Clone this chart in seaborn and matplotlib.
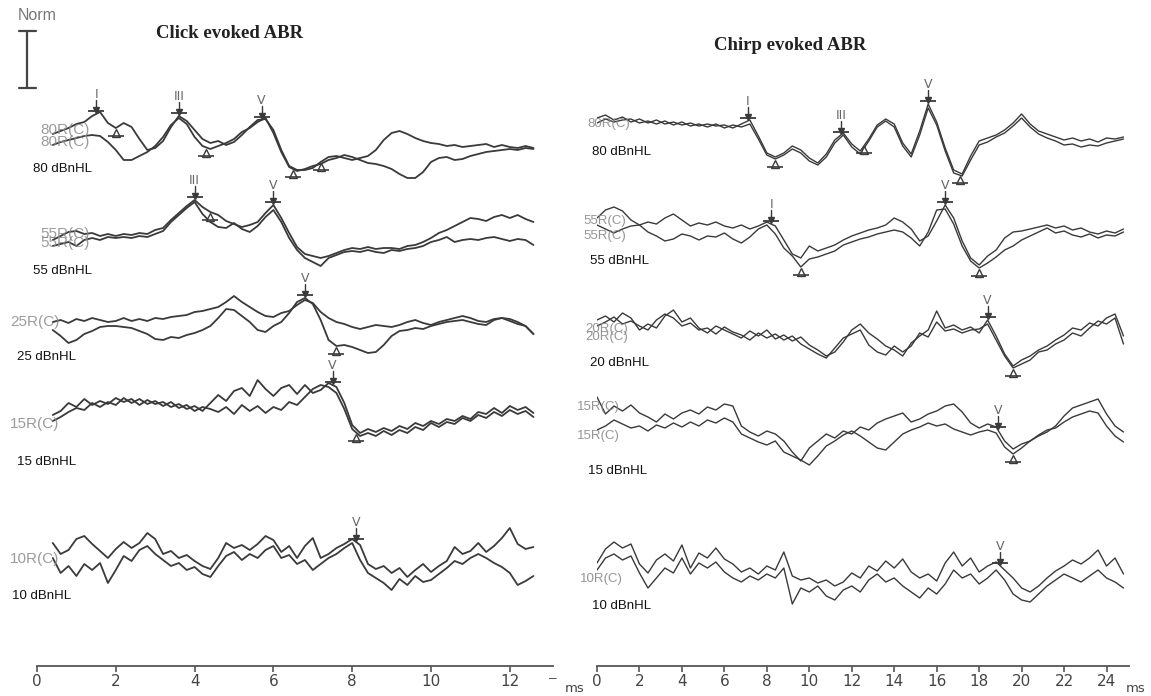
import numpy as np
import pandas as pd
import seaborn as sns
import matplotlib.pyplot as plt
from matplotlib.lines import Line2D

# sample times in ms
click_t = np.round(np.arange(0.4, 12.61, 0.2), 1)
chirp_t = np.round(np.arange(0.0, 24.81, 0.4), 1)

click_80a = [6, 9, 12, 16, 18, 24, 28, 17, 12, 17, 13, 1, -10, -8, -1, 13, 24, 19, 10, 1,
             -3, -1, -5, -2, 5, 13, 20, 21, 10, -10, -26, -30, -30, -28, -22, -17, -16, -18, -20, -18,
             -16, -10, 0, 7, 9, 6, 2, -1, -3, -4, -6, -5, -7, -6, -5, -4, -7, -5, -7, -8, -6, -8]
click_80b = [-5, -2, 0, 2, 4, 5, 4, -2, -10, -20, -20, -16, -12, -6, 3, 15, 22, 16, 3, -6,
             -9, -6, -3, 1, 8, 12, 18, 22, 7, -12, -27, -31, -29, -26, -24, -20, -18, -15, -17, -20,
             -23, -24, -26, -29, -34, -38, -38, -32, -22, -18, -17, -20, -19, -16, -14, -12, -11, -10, -9, -10, -8, -9]
click_55a = [0, 4, 8, 9, 6, 7, 4, 6, 4, 6, 5, 7, 6, 10, 12, 20, 27, 34, 40, 33,
             28, 25, 19, 16, 13, 15, 18, 27, 35, 22, 7, -7, -14, -16, -18, -16, -13, -10, -8, -9,
             -7, -9, -8, -8, -9, -6, -5, -2, 2, 7, 10, 14, 18, 22, 21, 19, 23, 25, 22, 25, 21, 18]
click_55b = [-6, -4, -2, -6, 0, 2, 0, 3, 2, 3, 2, 4, 3, 6, 9, 18, 25, 32, 38, 26,
             18, 13, 12, 17, 11, 8, 14, 23, 30, 18, 2, -10, -18, -22, -26, -18, -15, -12, -11, -12,
             -10, -12, -13, -10, -11, -9, -8, -6, -2, 0, 3, -2, 0, 1, 0, 2, 3, 1, -1, 1, 0, -5]
click_25a = [-2, 0, -3, 1, -1, 2, 0, -2, -1, 2, -1, 1, -1, 2, 1, 3, 4, 5, 8, 9,
             11, 13, 18, 24, 18, 13, 8, 4, 3, 7, 9, 15, 20, 17, 8, 2, -2, -4, -7, -9,
             -7, -5, -6, -7, -5, -2, 0, -3, -5, -2, 0, 2, 4, 2, -1, -2, 1, 2, -1, -4, -6, -14]
click_25b = [-10, -16, -23, -20, -14, -11, -7, -6, -6, -7, -8, -11, -14, -19, -20, -17, -18, -15, -13, -10,
             -6, 2, 11, 10, 4, -2, -10, -12, -6, -2, 7, 18, 22, 16, 0, -20, -26, -25, -27, -30,
             -33, -32, -25, -16, -11, -10, -8, -9, -6, -4, -2, -1, 0, -2, -4, -5, 0, 2, 1, -2, -6, -14]
click_15a = [-2, 2, 10, 6, 14, 8, 12, 9, 15, 11, 14, 8, 13, 9, 11, 6, 9, 4, 7, 2,
             10, 18, 12, 22, 25, 17, 33, 24, 17, 25, 28, 19, 28, 20, 23, 30, 26, 10, -12, -20,
             -16, -19, -15, -18, -13, -16, -10, -13, -8, -11, -6, -8, -3, -6, 1, -1, 5, 0, 7, 3, 6, 0]
click_15b = [-8, -4, 1, 5, 3, 10, 6, 11, 8, 15, 10, 14, 9, 12, 7, 11, 5, 8, 2, 6,
             4, 1, 6, -1, 8, 2, 7, 0, 6, 3, 11, 8, 16, 24, 28, 26, 20, 4, -16, -23,
             -20, -23, -18, -22, -17, -20, -14, -17, -10, -14, -9, -11, -5, -8, -2, -5, 1, -3, 3, -1, 2, -4]
click_10a = [15, 4, 8, 19, 22, 14, 7, 0, 9, 16, 10, 15, 25, 19, 4, 7, 0, 3, -3, -8,
             -11, 0, 15, 10, 13, 8, 14, 22, 18, 6, 12, 0, 12, 20, 0, 4, 10, 14, 19, 13,
             -6, -11, -8, -15, -10, -19, -12, -6, -14, -8, -3, 11, 4, 7, 15, 6, 12, 20, 30, 14, 9, 11]
click_10b = [0, -15, -8, -18, -6, -12, -5, -25, -12, 2, -3, 8, 12, 4, -2, -8, -5, -12, -9, -16,
             -19, -8, 2, 6, -2, 4, 0, 8, 12, 0, 3, -6, -2, -12, -6, 0, 4, 10, 15, -2,
             -15, -20, -25, -32, -21, -27, -18, -24, -22, -16, -10, -3, -6, 0, 4, 0, -5, -9, -15, -27, -23, -18]

chirp_80a = [10, 13, 8, 11, 6, 9, 5, 8, 4, 6, 3, 5, 2, 4, 2, 3, 0, 4, 8, -8,
             -25, -29, -25, -18, -22, -30, -35, -26, -12, -5, -16, -23, -11, 3, 9, 4, -15, -26, -3, 24,
             6, -20, -42, -46, -28, -13, -10, -7, -2, 5, 14, 4, -3, -6, -9, -12, -10, -13, -11, -14, -10, -11, -9]
chirp_80b = [5, 9, 6, 8, 9, 5, 7, 4, 7, 3, 6, 2, 4, 1, 4, 0, 3, 1, 4, -11,
             -27, -31, -27, -21, -25, -33, -37, -29, -15, -7, -19, -26, -13, 1, 7, 1, -18, -29, -7, 20,
             3, -23, -45, -48, -32, -17, -14, -9, -5, 2, 10, 1, -6, -10, -13, -17, -16, -19, -17, -18, -15, -13, -11]
chirp_55a = [18, 26, 29, 25, 16, 11, 14, 12, 18, 22, 16, 10, 13, 11, 14, 10, 8, 11, 7, 10,
             14, 10, -4, -18, -22, -10, -15, -12, -9, -4, 0, 3, 6, 8, 11, 18, 14, 7, -5, 0,
             15, 31, 18, -5, -22, -29, -20, -14, -2, 4, 5, 7, 9, 11, 8, 10, 6, 8, 4, 2, 5, 3, 7]
chirp_55b = [11, 7, 3, 7, 10, 11, 4, 0, -5, -3, 2, 0, -4, 0, -1, 3, -3, -7, -1, 7,
             11, 2, -12, -20, -31, -23, -21, -18, -15, -9, -6, -3, -1, 2, 4, 6, 4, -2, -10, 4,
             26, 27, 12, -10, -25, -32, -27, -21, -14, -10, -4, 0, 4, 8, 3, 5, 1, -1, 2, -2, 1, 0, 4]
chirp_20a = [10, 14, 8, 17, 12, 0, 6, 2, 14, 20, 8, 12, 2, -3, 4, 0, -4, -8, -1, -6,
             0, -9, -5, -11, -7, -15, -20, -26, -22, -12, 0, 6, -3, -9, -16, -20, -26, -13, -6, 0,
             19, 2, 5, 0, 3, -3, 10, -6, -24, -36, -30, -26, -20, -16, -10, -5, 2, 0, 7, 4, 12, 16, -6]
chirp_20b = [4, 8, 13, 6, 9, 4, 0, 10, 16, 12, 4, 7, 0, 2, -4, 3, -2, -5, -10, -3,
             -8, -4, -10, -6, -14, -19, -24, -28, -18, -8, -4, 0, -15, -22, -25, -16, -22, -16, -3, -7,
             8, -1, 1, -3, 0, 1, 6, -10, -26, -38, -34, -30, -22, -20, -14, -10, -3, -6, 2, 9, 6, 12, -14]
chirp_15a = [29, 12, 20, 15, 21, 13, 9, 4, 12, 7, 13, 16, 12, 19, 16, 22, 20, 0, -6, -10,
             -5, -8, -15, -26, -35, -22, -15, -8, -12, -5, -8, -1, -4, 3, 7, 10, 13, 4, 7, 12,
             15, 20, 22, 14, 3, -2, 2, -1, -15, -23, -18, -15, -10, -6, 0, 10, 18, 21, 24, 27, 12, 0, -6]
chirp_15b = [-4, 0, 6, 2, -2, 0, -5, 1, -2, 3, -1, 4, 0, 6, 3, 8, 4, -8, -12, -16,
             -19, -15, -26, -30, -34, -39, -30, -20, -15, -9, -5, -10, -16, -22, -24, -16, -8, -4, -1, 3,
             0, 2, -3, -6, -9, -6, -4, -7, -21, -28, -22, -15, -9, -4, -2, 4, 9, 12, 15, 13, 0, -10, -16]
chirp_10a = [5, 19, 26, 20, 24, 4, -5, 8, 14, 7, 23, 0, 15, 10, 20, 9, 4, -4, 0, -6,
             2, -2, 16, -8, -12, -10, -15, -12, -18, -14, -5, -10, 2, -3, 7, 0, 9, -4, -10, -6,
             -13, 5, 16, 2, 10, -4, 2, 6, -2, -10, -20, -24, -18, -10, -3, 2, 8, 4, 10, 18, 2, 10, -6]
chirp_10b = [-2, 10, 14, 8, 12, -5, -20, -10, 0, -5, 10, -6, 5, 0, 6, -4, -10, -14, -8, -12,
             -6, -10, 0, -36, -20, -24, -18, -28, -32, -22, -18, -24, -12, -6, -14, -10, -18, -24, -30, -20,
             -26, -16, -2, -10, -6, -16, -10, -2, -12, -26, -32, -34, -26, -18, -12, -6, -10, -14, -8, -2, -10, -14, -20]

click_levels = ["80", "55", "25", "15", "10"]
chirp_levels = ["80", "55", "20", "15", "10"]
click_runs = [(click_80a, click_80b), (click_55a, click_55b), (click_25a, click_25b),
              (click_15a, click_15b), (click_10a, click_10b)]
chirp_runs = [(chirp_80a, chirp_80b), (chirp_55a, chirp_55b), (chirp_20a, chirp_20b),
              (chirp_15a, chirp_15b), (chirp_10a, chirp_10b)]

# wave labels (latency ms, name) and trough marks (latency ms, run index)
click_peaks = {"80": [(1.5, "I"), (3.6, "III"), (5.7, "V")], "55": [(4.0, "III"), (6.0, "V")],
               "25": [(6.8, "V")], "15": [(7.5, "V")], "10": [(8.1, "V")]}
click_troughs = {"80": [(2.0, 0), (4.3, 1), (6.5, 1), (7.2, 0)], "55": [(4.4, 0)],
                 "25": [(7.6, 1)], "15": [(8.1, 1)], "10": []}
chirp_peaks = {"80": [(7.1, "I"), (11.5, "III"), (15.6, "V")], "55": [(8.2, "I"), (16.4, "V")],
               "20": [(18.4, "V")], "15": [(18.9, "V")], "10": [(19.0, "V")]}
chirp_troughs = {"80": [(8.4, 1), (12.6, 0), (17.1, 1)], "55": [(9.6, 1), (18.0, 1)],
                 "20": [(19.6, 1)], "15": [(19.6, 1)], "10": []}

# ---- layout (pixels of the 1151x696 canvas) ----
W, H = 1151, 696
AXIS_Y = 666
click_base = {"80": 140, "55": 240, "25": 320, "15": 413, "10": 558}
chirp_base = {"80": 128, "55": 236, "20": 330, "15": 426, "10": 568}
ink = "#3a3a3a"
grey = "#8a8a8a"

sns.set_style("white")
plt.rcParams["font.family"] = ["Liberation Sans", "DejaVu Sans"]

fig = plt.figure(figsize=(W / 100, H / 100), dpi=100)
ax_click = fig.add_axes([37 / W, (H - AXIS_Y) / H, 13.1 * 39.4 / W, AXIS_Y / H])
ax_chirp = fig.add_axes([597 / W, (H - AXIS_Y) / H, 25.07 * 21.23 / W, AXIS_Y / H])


def build(t, levels, runs, base):
    parts = []
    for lev, pair in zip(levels, runs):
        for k, amp in enumerate(pair):
            parts.append(pd.DataFrame({"t": t, "y": base[lev] - np.asarray(amp, float),
                                       "curve": f"{lev}_{k}"}))
    return pd.concat(parts, ignore_index=True)


def mark(ax, df, levels, peaks, troughs):
    for lev in levels:
        sub = [df[df.curve == f"{lev}_{k}"] for k in (0, 1)]
        for t, name in peaks[lev]:
            y = min(np.interp(t, s.t, s.y) for s in sub)
            ax.plot([t, t], [y - 14, y - 3], color=ink, lw=1)
            ax.plot(t, y - 4, marker="v", ms=4.5, color=ink)
            ax.plot(t, y - 3, marker="_", ms=11, mew=1.3, color=ink)
            ax.text(t, y - 13, name, ha="center", va="bottom", fontsize=9,
                    color="#666", family="DejaVu Sans")
        for t, k in troughs[lev]:
            y = np.interp(t, sub[k].t, sub[k].y)
            ax.plot(t, y + 5, marker="^", ms=5.5, mfc="white", mec=ink, mew=1)
            ax.plot(t, y + 8, marker="_", ms=12, mew=1.2, color=ink)


click_df = build(click_t, click_levels, click_runs, click_base)
chirp_df = build(chirp_t, chirp_levels, chirp_runs, chirp_base)

sns.lineplot(data=click_df, x="t", y="y", units="curve", estimator=None, color=ink,
             lw=1.3, legend=False, ax=ax_click)
sns.lineplot(data=chirp_df, x="t", y="y", units="curve", estimator=None, color=ink,
             lw=1.0, legend=False, ax=ax_chirp)
mark(ax_click, click_df, click_levels, click_peaks, click_troughs)
mark(ax_chirp, chirp_df, chirp_levels, chirp_peaks, chirp_troughs)

for ax, xmax, ticks in [(ax_click, 13.1, range(0, 13, 2)), (ax_chirp, 25.07, range(0, 25, 2))]:
    ax.set_xlim(0, xmax)
    ax.set_ylim(AXIS_Y, 0)
    ax.set_xticks(list(ticks))
    ax.set_yticks([])
    ax.set_xlabel("")
    ax.set_ylabel("")
    ax.patch.set_alpha(0)
    sns.despine(ax=ax, left=True)
    ax.spines["bottom"].set_color("#555")
    ax.spines["bottom"].set_linewidth(1.3)
    ax.tick_params(axis="x", bottom=True, length=4, width=1.2, color="#555",
                   labelsize=11, labelcolor="#444", pad=2)
    for lab in ax.get_xticklabels():
        lab.set_family("DejaVu Sans")


def ftext(x, y, s, **kw):
    fig.text(x / W, 1 - y / H, s, **kw)


# titles, scale bar
ftext(230, 33, "Click evoked ABR", ha="center", va="center", fontsize=13.5,
      fontweight="bold", family="Liberation Serif", color="#222")
ftext(790, 45, "Chirp evoked ABR", ha="center", va="center", fontsize=13.5,
      fontweight="bold", family="Liberation Serif", color="#222")
ftext(18, 16, "Norm", ha="left", va="center", fontsize=11.5, color="#777")
for xs, ys in [([27, 27], [31, 88]), ([19, 36], [31, 31]), ([19, 36], [88, 88])]:
    fig.add_artist(Line2D([x / W for x in xs], [1 - y / H for y in ys], color="#444", lw=1.6))

# channel labels (two tracings per level, printed on top of each other)
chan_click = [("80R(C)", 40, 130), ("80R(C)", 40, 142), ("55R(C)", 40, 234), ("55R(C)", 40, 243),
              ("25R(C)", 10, 322), ("15R(C)", 10, 424), ("10R(C)", 10, 559)]
chan_chirp = [("80R(C)", 587, 124), ("55R(C)", 583, 221), ("55R(C)", 583, 236),
              ("20R(C)", 585, 329), ("20R(C)", 585, 337), ("15R(C)", 577, 407), ("15R(C)", 577, 436),
              ("10R(C)", 580, 579)]
for s, x, y in chan_click:
    ftext(x, y, s, ha="left", va="center", fontsize=11, color=grey, alpha=0.85)
for s, x, y in chan_chirp:
    ftext(x, y, s, ha="left", va="center", fontsize=9.5, color=grey, alpha=0.9)

lev_click = [("80 dBnHL", 33, 169), ("55 dBnHL", 33, 271), ("25 dBnHL", 17, 357),
             ("15 dBnHL", 17, 462), ("10 dBnHL", 12, 596)]
lev_chirp = [("80 dBnHL", 592, 152), ("55 dBnHL", 590, 261), ("20 dBnHL", 590, 363),
             ("15 dBnHL", 588, 471), ("10 dBnHL", 592, 606)]
for s, x, y in lev_click + lev_chirp:
    ftext(x, y, s, ha="left", va="center", fontsize=9.5, color="#111")

# units
ftext(553, 678, "\u2013", ha="center", va="center", fontsize=10, color="#555")
ftext(575, 688, "ms", ha="center", va="center", fontsize=9.5, color="#444", family="DejaVu Sans")
ftext(1136, 688, "ms", ha="center", va="center", fontsize=9.5, color="#444", family="DejaVu Sans")

fig.savefig("out.png", dpi=100)
